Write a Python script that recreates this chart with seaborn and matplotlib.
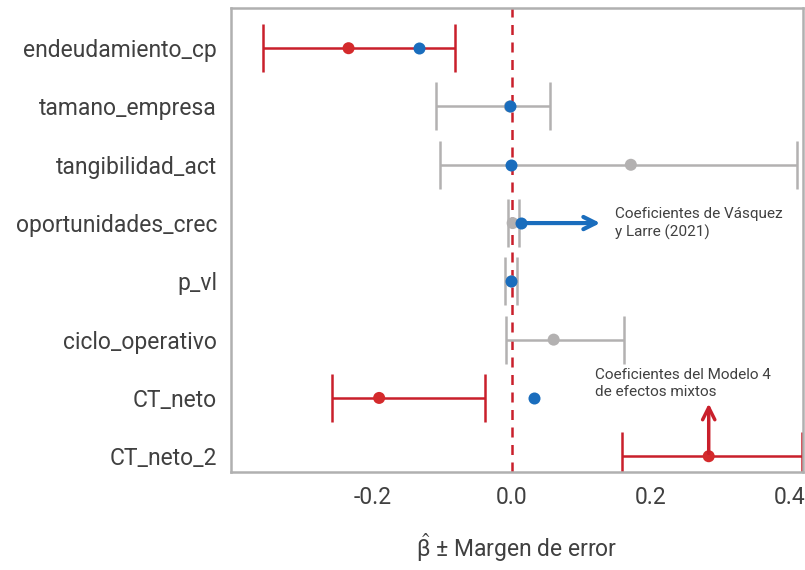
import numpy as np
import pandas as pd
import matplotlib
matplotlib.use("Agg")
import matplotlib.pyplot as plt
import seaborn as sns

# =========================
# DATA
# =========================

variables = ["endeudamiento_cp", "tamano_empresa", "tangibilidad_act",
             "oportunidades_crec", "p_vl", "ciclo_operativo", "CT_neto", "CT_neto_2"]

# Modelo 4 de efectos mixtos: estimado y limites del intervalo
beta_m4 = [-0.235, -0.003, 0.171, 0.001, -0.001, 0.060, -0.191, 0.283]
lower_m4 = [-0.358, -0.109, -0.104, -0.006, -0.010, -0.009, -0.259, 0.158]
upper_m4 = [-0.082, 0.055, 0.410, 0.010, 0.007, 0.161, -0.039, 0.417]
significant = [True, False, False, False, False, False, True, True]

# Coeficientes de Vasquez y Larre (2021)
beta_vl = [-0.134, -0.003, -0.001, 0.013, -0.001, np.nan, 0.032, np.nan]

df = pd.DataFrame({
    "variable": variables,
    "beta": beta_m4,
    "lower": lower_m4,
    "upper": upper_m4,
    "sig": significant,
    "beta_vl": beta_vl,
})

RED = "#d42a2c"
RED_BAR = "#c91f2b"
GREY = "#b3b1b1"
BLUE = "#1a6dbd"
TXT = "#404040"

# =========================
# PLOT
# =========================

sns.set_style("white")
plt.rcParams["font.family"] = ["Roboto", "DejaVu Sans"]
plt.rcParams["mathtext.default"] = "regular"

fig, ax = plt.subplots(figsize=(8.05, 5.70), dpi=100)
fig.subplots_adjust(left=0.287, right=0.997, top=0.986, bottom=0.172)

ax.axvline(0, color=RED_BAR, linestyle=(0, (4, 3)), linewidth=1.8, zorder=1)

ypos = np.arange(len(df))
for i, row in df.iterrows():
    col = RED_BAR if row["sig"] else GREY
    ax.errorbar(
        row["beta"], ypos[i],
        xerr=[[row["beta"] - row["lower"]], [row["upper"] - row["beta"]]],
        fmt="none", ecolor=col, elinewidth=1.8, capsize=17, capthick=1.8, zorder=2
    )

df["y"] = ypos
df["color"] = np.where(df["sig"], RED, GREY)

sns.scatterplot(data=df, x="beta", y="y", hue="color",
                palette={RED: RED, GREY: GREY}, s=75, linewidth=0,
                legend=False, ax=ax, zorder=3)
sns.scatterplot(data=df.dropna(subset=["beta_vl"]), x="beta_vl", y="y",
                color=BLUE, s=75, linewidth=0, legend=False, ax=ax, zorder=4)

ax.set_yticks(ypos)
ax.set_yticklabels(variables)
ax.set_xticks([-0.2, 0.0, 0.2, 0.4])
ax.set_xticklabels(["-0.2", "0.0", "0.2", "0.4"])
ax.set_xlim(-0.404, 0.418)
ax.set_ylim(7.27, -0.69)

ax.tick_params(axis="both", length=0, labelsize=16.5, labelcolor=TXT, pad=10)
ax.set_xlabel(r"$\hat{\beta}$ ± Margen de error", fontsize=16.5, color=TXT,
              labelpad=16)
ax.set_ylabel("")

for side in ["left", "right", "top", "bottom"]:
    ax.spines[side].set_color("#b0b0b0")
    ax.spines[side].set_linewidth(1.8)

# =========================
# ANNOTATIONS
# =========================

ax.annotate("", xy=(0.131, 3.0), xytext=(0.013, 3.0),
            arrowprops=dict(arrowstyle="->", color=BLUE, lw=3, mutation_scale=22))
ax.text(0.148, 3.0, "Coeficientes de Vásquez\ny Larre (2021)", fontsize=11,
        color=TXT, va="center", ha="left", linespacing=1.3)

ax.annotate("", xy=(0.283, 6.05), xytext=(0.283, 7.0),
            arrowprops=dict(arrowstyle="->", color=RED_BAR, lw=2.5, mutation_scale=22))
ax.text(0.12, 5.75, "Coeficientes del Modelo 4\nde efectos mixtos", fontsize=11,
        color=TXT, va="center", ha="left", linespacing=1.3)

plt.savefig("out.png", dpi=100)
